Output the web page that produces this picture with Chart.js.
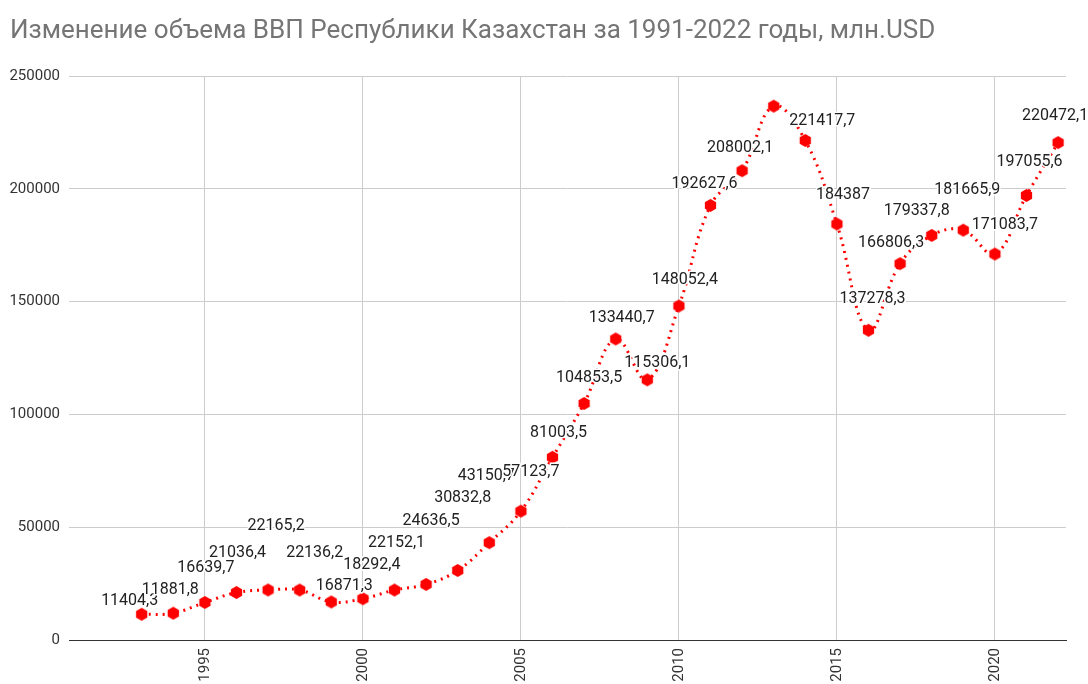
<!DOCTYPE html>
<html>
<head>
<meta charset="utf-8">
<script src="https://cdn.jsdelivr.net/npm/chart.js@4"></script>
<style>
  body { margin: 0; background: #fff; }
  #wrap { width: 1088px; height: 684px; }
</style>
</head>
<body>
<div id="wrap"><canvas id="gdp" width="1088" height="684"></canvas></div>
<script>
// years and GDP, mln USD
const years = [1993, 1994, 1995, 1996, 1997, 1998, 1999, 2000, 2001, 2002,
  2003, 2004, 2005, 2006, 2007, 2008, 2009, 2010, 2011, 2012,
  2013, 2014, 2015, 2016, 2017, 2018, 2019, 2020, 2021, 2022];
const gdp = [11404.3, 11881.8, 16639.7, 21036.4, 22165.2, 22136.2, 16871.3, 18292.4, 22152.1, 24636.5,
  30832.8, 43150.7, 57123.7, 81003.5, 104853.5, 133440.7, 115306.1, 148052.4, 192627.6, 208002.1,
  236634.6, 221417.7, 184387, 137278.3, 166806.3, 179337.8, 181665.9, 171083.7, 197055.6, 220472.1];
// which points get a value label (2013 has none on the original)
const showLabel = years.map((y) => y !== 2013);
const xTicks = [1995, 2000, 2005, 2010, 2015, 2020];
const yTicks = [0, 50000, 100000, 150000, 200000, 250000];

// label offsets from the point, px (the original spreads them to avoid overlap)
const labelOffsets = [
  [-12, -13], [-3, -23], [1, -34], [1, -40], [8, -64], [15, -37], [13, -16], [9, -34], [2, -47], [5, -63],
  [5, -72], [-3, -67], [10, -39], [6, -24], [5, -25], [6, -21], [10, -17], [6, -26], [-6, -21], [-2, -23],
  [0, -20], [17, -19], [6, -29], [4, -31], [-9, -21], [-15, -24], [4, -40], [10, -29], [3, -33], [-3, -27],
];

// hexagon marker
function hexagon(r, color) {
  const c = document.createElement("canvas");
  c.width = c.height = r * 2 + 2;
  const g = c.getContext("2d");
  g.fillStyle = color;
  g.beginPath();
  for (let i = 0; i < 6; i++) {
    const a = Math.PI / 2 + i * Math.PI / 3;
    const px = r + 1 + r * Math.cos(a);
    const py = r + 1 + r * Math.sin(a);
    if (i === 0) g.moveTo(px, py); else g.lineTo(px, py);
  }
  g.closePath();
  g.fill();
  return c;
}
const marker = hexagon(6.5, "#ff0000");

const valueLabels = {
  id: "valueLabels",
  afterDatasetsDraw(chart) {
    const ctx = chart.ctx;
    const meta = chart.getDatasetMeta(0);
    ctx.save();
    ctx.font = "16px Roboto";
    ctx.textAlign = "center";
    ctx.textBaseline = "middle";
    ctx.lineJoin = "round";
    meta.data.forEach((pt, i) => {
      if (!showLabel[i]) return;
      const txt = String(gdp[i]).replace(".", ",");
      const x = pt.x + labelOffsets[i][0];
      const y = pt.y + labelOffsets[i][1];
      ctx.strokeStyle = "#ffffff";
      ctx.lineWidth = 3;
      ctx.strokeText(txt, x, y);
      ctx.fillStyle = "#222222";
      ctx.fillText(txt, x, y);
    });
    ctx.restore();
  },
};

const ctx = document.getElementById("gdp").getContext("2d");
new Chart(ctx, {
  type: "line",
  data: {
    datasets: [
      {
        data: years.map((y, i) => ({ x: y, y: gdp[i] })),
        borderColor: "#ff0000",
        borderWidth: 3,
        borderDash: [2, 5],
        tension: 0.4,
        pointStyle: marker,
        pointRadius: 7,
        pointHoverRadius: 7,
      },
    ],
  },
  options: {
    responsive: false,
    animation: false,
    layout: { padding: { left: 10, right: 22, top: 0, bottom: 0 } },
    plugins: {
      legend: { display: false },
      tooltip: { enabled: false },
      title: {
        display: true,
        text: "Изменение объема ВВП Республики Казахстан за 1991-2022 годы, млн.USD",
        align: "start",
        color: "#757575",
        font: { family: "Roboto", size: 26, weight: "normal" },
        padding: { top: 16, bottom: 28.8 },
      },
    },
    scales: {
      x: {
        type: "linear",
        min: 1990.7,
        max: 2022.25,
        afterBuildTicks: (axis) => { axis.ticks = xTicks.map((v) => ({ value: v })); },
        afterFit: (axis) => { axis.height = 44; },
        ticks: {
          minRotation: 90,
          maxRotation: 90,
          padding: 8,
          color: "#333",
          font: { family: "Roboto", size: 15 },
          callback: (v) => String(v),
        },
        grid: { color: "#cccccc", drawTicks: false },
        border: { color: "#333333", width: 1 },
      },
      y: {
        min: 0,
        max: 250000,
        afterBuildTicks: (axis) => { axis.ticks = yTicks.map((v) => ({ value: v })); },
        afterFit: (axis) => { axis.width = 59; },
        ticks: {
          padding: 9,
          color: "#333",
          font: { family: "Roboto", size: 15 },
          callback: (v) => String(v),
        },
        grid: {
          color: (c) => (c.tick && c.tick.value === 0 ? "#333333" : "#cccccc"),
          drawTicks: false,
        },
        border: { display: false },
      },
    },
  },
  plugins: [valueLabels],
});
</script>
</body>
</html>
